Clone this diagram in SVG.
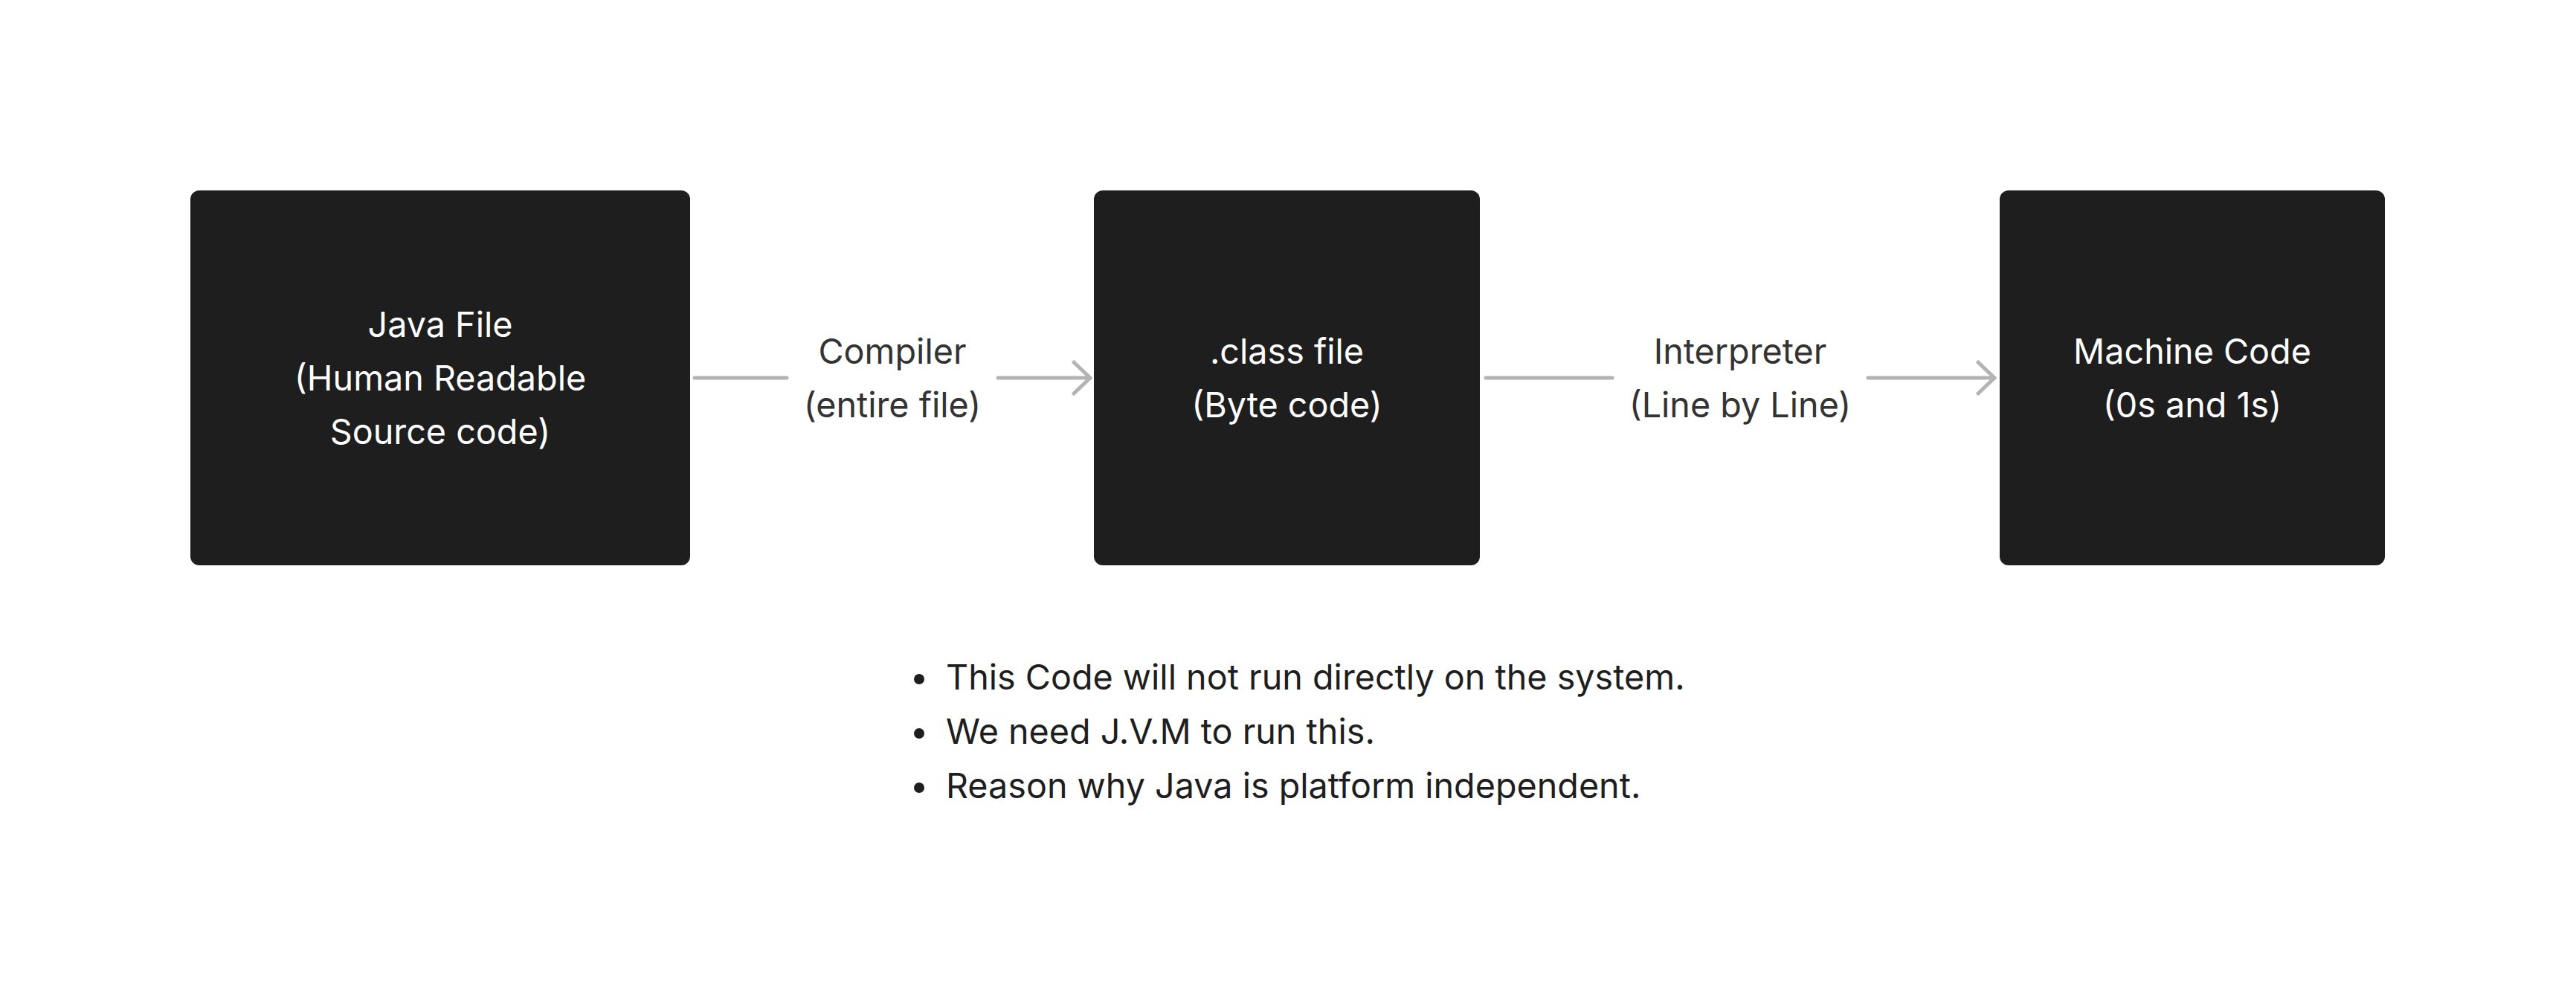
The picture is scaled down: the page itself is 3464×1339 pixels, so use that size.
<svg xmlns="http://www.w3.org/2000/svg" width="3464" height="1339" viewBox="0 0 3464 1339">
  <style>
    .box { fill: #1e1e1e; }
    .btxt { font-family: Inter, "Noto Sans", "Liberation Sans", sans-serif; font-size: 46.7px; fill: #ffffff; text-anchor: middle; }
    .ltxt { font-family: Inter, "Noto Sans", "Liberation Sans", sans-serif; font-size: 46.7px; fill: #333333; text-anchor: middle; }
    .note { font-family: Inter, "Noto Sans", "Liberation Sans", sans-serif; font-size: 46.7px; fill: #1e1e1e; }
    .conn { stroke: #b3b3b3; stroke-width: 5; stroke-linecap: round; stroke-linejoin: round; fill: none; }
  </style>
  <defs>
    <marker id="chev" viewBox="0 0 30 50" refX="26" refY="25" markerWidth="30" markerHeight="50" markerUnits="userSpaceOnUse" orient="auto">
      <path d="M4 4 L26 25 L4 46" fill="none" stroke="#b3b3b3" stroke-width="5" stroke-linecap="round" stroke-linejoin="round"/>
    </marker>
  </defs>
  <rect width="3464" height="1339" fill="#ffffff"/>

  <g id="node-java-file">
    <rect class="box" x="256" y="256" width="672" height="504" rx="12"/>
    <text class="btxt" x="592" y="453">Java File</text>
    <text class="btxt" x="592" y="525">(Human Readable</text>
    <text class="btxt" x="592" y="597">Source code)</text>
  </g>

  <g id="node-class-file">
    <rect class="box" x="1471" y="256" width="519" height="504" rx="12"/>
    <text class="btxt" x="1730.5" y="489">.class file</text>
    <text class="btxt" x="1730.5" y="561">(Byte code)</text>
  </g>

  <g id="node-machine-code">
    <rect class="box" x="2689" y="256" width="518" height="504" rx="12"/>
    <text class="btxt" x="2948" y="489">Machine Code</text>
    <text class="btxt" x="2948" y="561">(0s and 1s)</text>
  </g>

  <g id="connectors">
    <g id="edge-compiler">
      <line class="conn" x1="934" y1="508" x2="1058" y2="508"/>
      <line class="conn" x1="1342" y1="508" x2="1466" y2="508" marker-end="url(#chev)"/>
      <text class="ltxt" x="1200" y="489">Compiler</text>
      <text class="ltxt" x="1200" y="561">(entire file)</text>
    </g>
    <g id="edge-interpreter">
      <line class="conn" x1="1998" y1="508" x2="2168" y2="508"/>
      <line class="conn" x1="2512" y1="508" x2="2682" y2="508" marker-end="url(#chev)"/>
      <text class="ltxt" x="2340" y="489">Interpreter</text>
      <text class="ltxt" x="2340" y="561">(Line by Line)</text>
    </g>
  </g>

  <g id="notes">
    <circle cx="1236" cy="913" r="7" fill="#1e1e1e"/>
    <text class="note" x="1272" y="927">This Code will not run directly on the system.</text>
    <circle cx="1236" cy="986" r="7" fill="#1e1e1e"/>
    <text class="note" x="1272" y="1000">We need J.V.M to run this.</text>
    <circle cx="1236" cy="1059" r="7" fill="#1e1e1e"/>
    <text class="note" x="1272" y="1073">Reason why Java is platform independent.</text>
  </g>
</svg>
